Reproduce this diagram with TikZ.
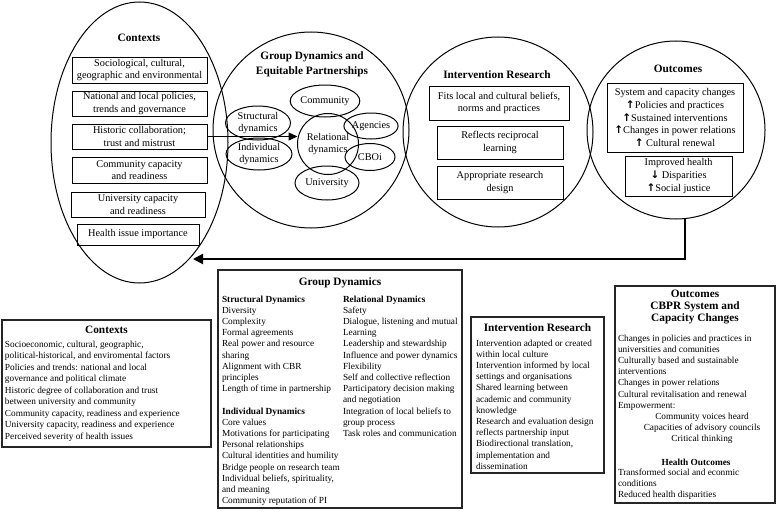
\documentclass[tikz,border=0pt]{standalone}
\usepackage{fontspec}
\setmainfont{Liberation Serif}
\newfontfamily\arrowfont{DejaVu Sans}
\usetikzlibrary{shapes.geometric,arrows.meta}
\newcommand{\upar}{{\arrowfont\bfseries\fontsize{10.5}{10.5}\selectfont ↑}}
\newcommand{\dnar}{{\arrowfont\bfseries\fontsize{10.5}{10.5}\selectfont ↓}}
\begin{document}
\begin{tikzpicture}[x=1pt,y=-1pt,
  every node/.style={inner sep=0pt, outer sep=0pt},
  ring/.style={draw, line width=1pt},
  ellbig/.style={ring, ellipse},
  circbig/.style={ring, circle},
  smallell/.style={ring, ellipse, align=center, font=\fontsize{10.3}{12.3}\selectfont},
  topbox/.style={draw, line width=0.9pt, rectangle, align=center, font=\fontsize{10.3}{12.6}\selectfont},
  toptitle/.style={align=center, font=\fontsize{11.3}{15}\selectfont\bfseries},
  botbox/.style={draw=black!85, line width=1.1pt, rectangle},
  bottitle/.style={align=center, font=\fontsize{11.3}{11.7}\selectfont\bfseries},
  bodytxt/.style={align=left, anchor=north west, font=\fontsize{9.3}{11.2}\selectfont},
  conn/.style={line width=1.3pt, -{Triangle[length=9pt,width=8pt]}},
  retconn/.style={line width=2.2pt, -{Triangle[length=10pt,width=10pt]}}
]
\useasboundingbox[fill=white] (0,0) rectangle (778,511);

% ---------- Contexts ellipse ----------
\node[ellbig, minimum width=177pt, minimum height=281pt] (ctxell) at (139.5,142.5) {};
\node[toptitle] (ctxtitle) at (139,38) {Contexts};
\node[topbox, minimum width=135pt, minimum height=26pt] (ctx1) at (139.5,70) {Sociological, cultural,\\geographic and environmental};
\node[topbox, minimum width=135pt, minimum height=25pt] (ctx2) at (139.5,103.5) {National and local policies,\\trends and governance};
\node[topbox, minimum width=135pt, minimum height=25pt] (ctx3) at (139.5,136.5) {Historic collaboration;\\trust and mistrust};
\node[topbox, minimum width=135pt, minimum height=26pt] (ctx4) at (139.5,170) {Community capacity\\and readiness};
\node[topbox, minimum width=134pt, minimum height=25pt] (ctx5) at (138,204.5) {University capacity\\and readiness};
\node[topbox, minimum width=122pt, minimum height=21pt] (ctx6) at (138,234.5) {Health issue importance};

% ---------- Group dynamics circle ----------
\node[circbig, minimum size=196pt] (gdcirc) at (311,130) {};
\node[toptitle] (gdtitle) at (312,64) {Group Dynamics and\\Equitable Partnerships};
\node[smallell, minimum width=66pt, minimum height=32pt] (community) at (325,101) {Community};
\node[smallell, circle, minimum size=61pt] (relational) at (328,144) {Relational\\dynamics};
\node[smallell, minimum width=50pt, minimum height=26pt] (agencies) at (371,126) {Agencies};
\node[smallell, minimum width=50pt, minimum height=27pt] (cboi) at (370,157) {CBOi};
\node[smallell, minimum width=64pt, minimum height=34pt] (university) at (327,183) {University};
\node[smallell, minimum width=65pt, minimum height=34pt] (structural) at (258,123) {Structural\\dynamics};
\node[smallell, minimum width=66pt, minimum height=32pt] (individual) at (259,154) {Individual\\dynamics};

% ---------- Intervention research circle ----------
\node[circbig, minimum size=190pt] (ircirc) at (498,132) {};
\node[toptitle] (irtitle) at (497,75) {Intervention Research};
\node[topbox, minimum width=140pt, minimum height=34pt] (ir1) at (499,103) {Fits local and cultural beliefs,\\norms and practices};
\node[topbox, minimum width=126pt, minimum height=33pt] (ir2) at (500,142.5) {Reflects reciprocal\\learning};
\node[topbox, minimum width=126pt, minimum height=33pt] (ir3) at (500,182.5) {Appropriate research\\design};

% ---------- Outcomes circle ----------
\node[circbig, minimum size=178pt] (occirc) at (676,130) {};
\node[toptitle] (octitle) at (678,69) {Outcomes};
\node[topbox, minimum width=136pt, minimum height=69pt] (oc1) at (675,117.5) {System and capacity changes\\\upar Policies and practices\\\upar Sustained interventions\\\upar Changes in power relations\\\upar\ Cultural renewal};
\node[topbox, minimum width=107pt, minimum height=40pt] (oc2) at (678.5,176) {Improved health\\\dnar\ Disparities\\\upar Social justice};

% ---------- connectors ----------
\draw[conn] (ctx3.east) -- (ctx3.east -| relational.west);
\coordinate (retend) at (193,259);
\draw[retconn] (occirc.-84) |- (retend);

% ---------- Bottom: Contexts ----------
\node[botbox, minimum width=209pt, minimum height=127pt] (bctx) at (106.5,383.5) {};
\node[bottitle] (bctxtitle) at (106.5,330) {Contexts};
\node[bodytxt, font=\fontsize{9.3}{11.5}\selectfont] (bctxbody) at (5,340.7) {Socioeconomic, cultural, geographic,\\political-historical, and enviromental factors\\Policies and trends: national and local\\governance and political climate\\Historic degree of collaboration and trust\\between university and community\\Community capacity, readiness and experience\\University capacity, readiness and experience\\Perceived severity of health issues};

% ---------- Bottom: Group Dynamics ----------
\node[botbox, minimum width=244pt, minimum height=238pt] (bgd) at (340,389) {};
\node[bottitle] (bgdtitle) at (340,283) {Group Dynamics};
\node[bodytxt] (bgdleft) at (222,295.7) {\textbf{Structural Dynamics}\\Diversity\\Complexity\\Formal agreements\\Real power and resource\\sharing\\Alignment with CBR\\principles\\Length of time in partnership\\[11.2pt]\textbf{Individual Dynamics}\\Core values\\Motivations for participating\\Personal relationships\\Cultural identities and humility\\Bridge people on research team\\Individual beliefs, spirituality,\\and meaning\\Community reputation of PI};
\node[bodytxt] (bgdright) at (343,295.7) {\textbf{Relational Dynamics}\\Safety\\Dialogue, listening and mutual\\Learning\\Leadership and stewardship\\Influence and power dynamics\\Flexibility\\Self and collective reflection\\Participatory decision making\\and negotiation\\Integration of local beliefs to\\group process\\Task roles and communication};

% ---------- Bottom: Intervention Research ----------
\node[botbox, minimum width=133pt, minimum height=156pt] (bir) at (537.5,395) {};
\node[bottitle] (birtitle) at (537.5,328) {Intervention Research};
\node[bodytxt] (birbody) at (476,339.7) {Intervention adapted or created\\within local culture\\Intervention informed by local\\settings and organisations\\Shared learning between\\academic and community\\knowledge\\Research and evaluation design\\reflects partnership input\\Biodirectional translation,\\implementation and\\dissemination};

% ---------- Bottom: Outcomes ----------
\node[botbox, minimum width=160pt, minimum height=217pt] (boc) at (695,394.5) {};
\node[bottitle] (boctitle) at (695,307) {Outcomes\\CBPR System and\\Capacity Changes};
\node[bodytxt] (bocbody1) at (618,334.7) {Changes in policies and practices in\\universities and comunities\\Culturally based and sustainable\\interventions\\Changes in power relations\\Cultural revitalisation and renewal\\Empowerment:};
\node[align=center, font=\fontsize{9.3}{11.2}\selectfont] (bocemp) at (702,428) {Community voices heard\\Capacities of advisory councils\\Critical thinking};
\node[font=\fontsize{9.3}{11.2}\selectfont\bfseries] (bochealth) at (696,462) {Health Outcomes};
\node[bodytxt] (bocbody2) at (618,468.7) {Transformed social and econmic\\conditions\\Reduced health disparities};
\end{tikzpicture}
\end{document}
